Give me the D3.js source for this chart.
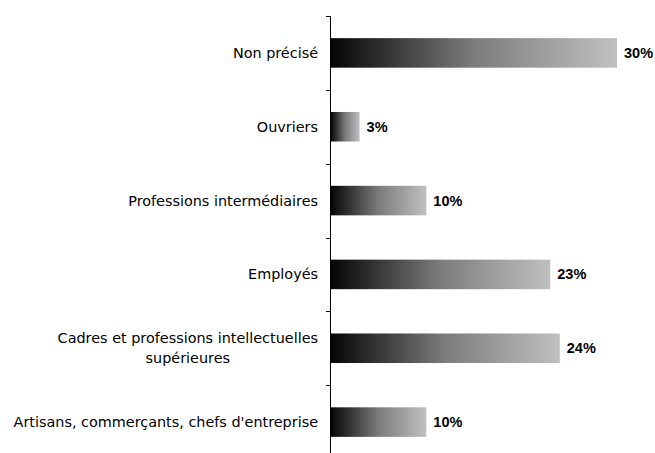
<!DOCTYPE html>
<html>
<head>
<meta charset="utf-8">
<script src="https://cdn.jsdelivr.net/npm/d3@7"></script>
<style>
  html, body { margin: 0; padding: 0; background: #fff; }
  svg { display: block; }
</style>
</head>
<body>
<svg id="chart" width="655" height="453"></svg>
<script>
// Socio-professional categories, top to bottom
const categories = [
  "Non précisé",
  "Ouvriers",
  "Professions intermédiaires",
  "Employés",
  "Cadres et professions intellectuelles supérieures",
  "Artisans, commerçants, chefs d'entreprise"
];
// Share of each category, in percent
const shares = [30, 3, 10, 23, 24, 10];
// Wrapped label lines where the category name is too long
const labelLines = [
  ["Non précisé"],
  ["Ouvriers"],
  ["Professions intermédiaires"],
  ["Employés"],
  ["Cadres et professions intellectuelles", "supérieures"],
  ["Artisans, commerçants, chefs d'entreprise"]
];

const svg = d3.select("#chart");
const axisX = 331;
const plotTop = 16, plotBottom = 459;

const x = d3.scaleLinear().domain([0, 30]).range([axisX, 617]);
const y = d3.scaleBand().domain(categories).range([plotTop, plotBottom]).paddingInner(0.6).paddingOuter(0.3);
const band = d3.scaleBand().domain(categories).range([plotTop, plotBottom]);

// Horizontal gradient, black to light grey, per bar
const defs = svg.append("defs");
const grad = defs.append("linearGradient")
  .attr("id", "barGrad")
  .attr("x1", "0%").attr("x2", "100%").attr("y1", "0%").attr("y2", "0%");
grad.append("stop").attr("offset", "0%").attr("stop-color", "#050505");
grad.append("stop").attr("offset", "50%").attr("stop-color", "#7c7c7c");
grad.append("stop").attr("offset", "100%").attr("stop-color", "#c0c0c0");

// Bars
svg.append("g").selectAll("rect")
  .data(categories)
  .join("rect")
  .attr("x", x(0))
  .attr("y", d => y(d))
  .attr("width", (d, i) => x(shares[i]) - x(0))
  .attr("height", y.bandwidth())
  .attr("fill", "url(#barGrad)");

// Value labels
svg.append("g").selectAll("text")
  .data(categories)
  .join("text")
  .attr("x", (d, i) => x(shares[i]) + 7)
  .attr("y", d => y(d) + y.bandwidth() / 2)
  .attr("dy", "0.35em")
  .attr("font-family", "'Liberation Sans', Arial, sans-serif")
  .attr("font-weight", "bold")
  .attr("font-size", 14.5)
  .attr("fill", "#000")
  .text((d, i) => shares[i] + "%");

// Category axis: vertical line with ticks at band boundaries
const axisG = svg.append("g").attr("stroke", "#000").attr("stroke-width", 1);
axisG.append("line")
  .attr("x1", axisX - 0.5).attr("x2", axisX - 0.5)
  .attr("y1", plotTop).attr("y2", plotBottom);
const boundaries = categories.map(c => band(c)).concat([plotBottom]);
axisG.selectAll("line.tick")
  .data(boundaries)
  .join("line")
  .attr("class", "tick")
  .attr("x1", axisX - 5).attr("x2", axisX - 0.5)
  .attr("y1", d => Math.round(d) + 0.5).attr("y2", d => Math.round(d) + 0.5);

// Category labels
const lineH = 20;
const labels = svg.append("g")
  .attr("font-family", "'DejaVu Sans', Tahoma, sans-serif")
  .attr("font-size", 14.4)
  .attr("fill", "#000")
  .attr("text-anchor", "end");
categories.forEach((c, i) => {
  const lines = labelLines[i];
  const cy = band(c) + band.bandwidth() / 2;
  if (lines.length > 1) {
    const t = labels.append("text").attr("text-anchor", "middle");
    lines.forEach((l, j) => {
      t.append("tspan")
        .attr("x", 0)
        .attr("y", cy - (lines.length - 1) * lineH / 2 + j * lineH)
        .attr("dy", "0.35em")
        .text(l);
    });
    // centre the wrapped block over the right-aligned column
    const w = t.node().getBBox().width;
    t.selectAll("tspan").attr("x", 318 - w / 2);
  } else {
    labels.append("text")
      .attr("x", 318)
      .attr("y", cy)
      .attr("dy", "0.35em")
      .text(lines[0]);
  }
});
</script>
</body>
</html>
